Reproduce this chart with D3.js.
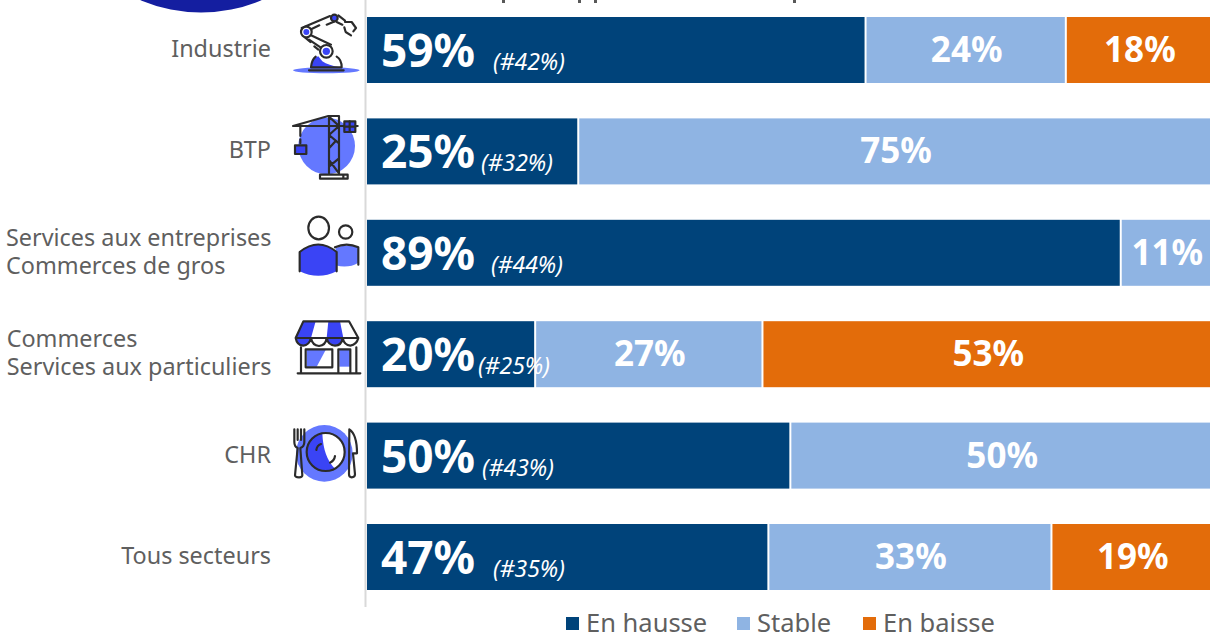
<!DOCTYPE html>
<html><head><meta charset="utf-8">
<script src="https://cdn.jsdelivr.net/npm/d3@7"></script>
<style>html,body{margin:0;padding:0;background:#fff;overflow:hidden}svg{display:block}text{font-family:"Noto Sans",sans-serif}</style>
</head><body><svg id="c" width="1210" height="633"></svg>
<script>
const categories = ["Industrie","BTP","Services aux entreprises\nCommerces de gros","Commerces\nServices aux particuliers","CHR","Tous secteurs"];
const seriesNames = ["En hausse","Stable","En baisse"];
const hausse = [59.0,25.0,89.2,19.9,50.1,47.5];
const stable = [23.7,75.0,10.8,26.9,49.9,33.5];
const baisse = [17.3,0,0,53.2,0,19.0];
const hausseLabels = ["59%","25%","89%","20%","50%","47%"];
const stableLabels = ["24%","75%","11%","27%","50%","33%"];
const baisseLabels = ["18%","","","53%","","19%"];
const priorLabels = ["(#42%)","(#32%)","(#44%)","(#25%)","(#43%)","(#35%)"];
const seriesColors = ["#00437a","#8fb4e3","#e36c0a"];

const priorLabelX = [493,481,491,478,482,493];
const W=1210,H=633;
const svg=d3.select("#c");
const x=d3.scaleLinear().domain([0,100]).range([367,1212]);
const y=d3.scaleBand().domain(categories).range([17,590]).paddingInner(35.4/101.4);
const series=[hausse,stable,baisse];
const seriesLabels=[hausseLabels,stableLabels,baisseLabels];
const BLUE="#3a44f5",LIGHT="#6478ff",INK="#2b2b2b";

// top decorative disc, cropped by the page edge
svg.append("circle").attr("cx",201).attr("cy",-142.5).attr("r",155).attr("fill","#141ea0");
// descenders of the cropped heading
svg.append("g").attr("fill","#595959").selectAll("rect").data([502,578,594,793]).join("rect")
  .attr("x",d=>d).attr("y",0).attr("width",3).attr("height",3);

// axis line
svg.append("line").attr("x1",365.5).attr("x2",365.5).attr("y1",0).attr("y2",607).attr("stroke","#d9d9d9").attr("stroke-width",2);

// bars
const rows=svg.append("g").selectAll("g").data(categories).join("g");
series.forEach((vals,s)=>{
  rows.each(function(c,i){
    if(!vals[i])return;
    const start=d3.sum(series.slice(0,s),v=>v[i]);
    const x0=x(start),x1=x(start+vals[i]);
    const g=d3.select(this);
    g.append("rect").attr("x",s?x0+1:x0).attr("y",y(c)).attr("width",x1-x0-(s?1:0)-(s<2?1:0)).attr("height",y.bandwidth()).attr("fill",seriesColors[s]);
    if(s===0){
      g.append("text").attr("x",x0+14).attr("y",y(c)+50).attr("fill","#fff").attr("font-weight",700).attr("font-size",46).text(seriesLabels[s][i]);
    } else {
      g.append("text").attr("x",(x0+x1)/2+1).attr("y",y(c)+45).attr("text-anchor","middle").attr("fill","#fff").attr("font-weight",700).attr("font-size",35).text(seriesLabels[s][i]);
    }
  });
});
rows.append("text").attr("x",(c,i)=>priorLabelX[i]).attr("y",c=>y(c)+53).attr("fill","#fff").attr("font-style","italic").attr("font-size",23).text((c,i)=>priorLabels[i]);

// category labels
rows.each(function(c){
  const lines=c.split("\n");
  const g=d3.select(this).append("text").attr("fill","#5f5f5f").attr("font-size",23.4);
  const cy=y(c)+y.bandwidth()/2;
  lines.forEach((l,j)=>g.append("tspan").attr("x",271).attr("y",cy+7+(j-(lines.length-1)/2)*28.5).text(l));
  if(lines.length>1){
    const w=g.node().getBBox().width;
    g.selectAll("tspan").attr("x",271.5-w);
  } else g.attr("text-anchor","end");
});

// legend
const legendSquareX=[566,737,863];
const lg=svg.append("g").selectAll("g").data(seriesNames).join("g");
lg.append("rect").attr("x",(d,i)=>legendSquareX[i]).attr("y",617).attr("width",13).attr("height",13).attr("fill",(d,i)=>seriesColors[i]);
lg.append("text").attr("x",(d,i)=>legendSquareX[i]+20).attr("y",632).attr("fill","#5f5f5f").attr("font-size",25.5).text(d=>d);

// icons (drawn in a 3x local grid)
function icon(oy){return svg.append("g").attr("transform",`translate(285,${oy}) scale(${1/3})`).attr("fill","none").attr("stroke",INK).attr("stroke-width",6.5).attr("stroke-linecap","round").attr("stroke-linejoin","round");}
function P(g,d,o={}){const p=g.append("path").attr("d",d);Object.entries(o).forEach(([k,v])=>p.attr(k,v));return p;}
function C(g,cx,cy,r,o={}){const p=g.append("circle").attr("cx",cx).attr("cy",cy).attr("r",r);Object.entries(o).forEach(([k,v])=>p.attr(k,v));return p;}

// robot
let g=icon(8);
g.append("ellipse").attr("cx",124).attr("cy",187).attr("rx",100).attr("ry",9).attr("fill",LIGHT).attr("stroke","none");
P(g,"M78,178 Q80,150 100,145 L112,160 Q130,172 165,178 Z",{fill:BLUE,stroke:"none"});
P(g,"M78,178 Q80,155 92,146 M155,146 Q170,155 170,178 M78,178 H170 M72,187 H176");
P(g,"M50,60 L135,24 M75,65 L103,52 M125,50 L150,40 M78,82 L138,110 M72,95 L112,122 M60,88 L76,102 M88,115 L100,125");
P(g,"M160,22 L180,38 M172,50 L155,42 M180,42 L200,42 L213,60 L205,70 M178,58 L182,72 L198,82");
C(g,64,72,16,{fill:"#fff"});C(g,64,72,9,{fill:BLUE,stroke:"none"});
C(g,124,130,19,{fill:"#fff"});C(g,124,130,11,{fill:BLUE,stroke:"none"});
C(g,148,30,10,{fill:BLUE});

// crane
g=icon(110);
C(g,125,108,85,{fill:LIGHT,stroke:"none"});
P(g,"M24,48 H218 M24,48 L130,18 H162 V190 M132,18 V190 M132,20 L162,48 L132,75 L162,100 M132,115 L150,95 M132,170 L162,145 M132,150 L162,190 M46,50 V78 M46,88 V100");
P(g,"M105,194 H188 V206 H105 Z M175,194 V206");
P(g,"M178,34 H211 V66 H178 Z",{fill:BLUE});
P(g,"M194,34 V66 M178,50 H211");
P(g,"M30,106 H64 V132 H30 Z",{fill:BLUE});

// people
g=icon(212);
P(g,"M152,108 Q185,95 220,105 V152 Q190,170 152,160 Z",{fill:LIGHT,stroke:"none"});
P(g,"M150,106 Q185,90 220,106 V158");
C(g,182,60,20);
g.append("ellipse").attr("cx",101).attr("cy",48).attr("rx",31).attr("ry",34);
P(g,"M44,178 V120 Q100,75 155,120 V178 Q100,205 44,178 Z",{fill:BLUE,stroke:"none"});
P(g,"M44,178 V120 Q100,75 155,120 V178");

// shop
g=icon(314);
P(g,"M32,72 L55,22 H92 L78,72 Q78,92 55,95 Q34,92 32,72 Z",{fill:BLUE,stroke:"none"});
P(g,"M130,22 H165 L175,72 Q170,93 150,93 Q128,90 125,72 Z",{fill:BLUE,stroke:"none"});
P(g,"M55,22 H192 L220,72 H32 Z M32,72 Q36,94 55,95 Q72,94 78,72 Q82,94 102,96 Q122,94 125,72 Q130,94 150,95 Q170,94 173,72 Q178,94 196,95 Q215,92 220,72");
P(g,"M65,108 H122 L95,158 H65 Z",{fill:LIGHT,stroke:"none"});
P(g,"M163,108 H195 V158 H163 Z",{fill:LIGHT,stroke:"none"});
P(g,"M48,100 V178 M214,100 V178 M38,178 H226 M62,106 H142 V160 H62 Z M160,106 H196 V178 M160,106 V178");

// plate
g=icon(416);
C(g,118,112,85,{fill:LIGHT,stroke:"none"});
C(g,122,108,57,{fill:"#fff",stroke:"none"});
P(g,"M112,52 A57,57 0 1 0 150,158 Q115,125 112,52 Z",{fill:BLUE,stroke:"none"});
C(g,122,108,57);
P(g,"M94,102 Q96,88 108,84 M135,140 Q148,134 150,120");
P(g,"M28,40 V78 Q28,92 38,96 L30,178 Q30,184 42,184 Q52,184 52,178 L46,96 Q58,92 58,78 V40 M38,40 V72 M48,40 V72");
P(g,"M193,40 Q216,55 216,112 H204 L210,175 Q210,184 200,184 Q192,184 192,175 Z");
</script></body></html>
